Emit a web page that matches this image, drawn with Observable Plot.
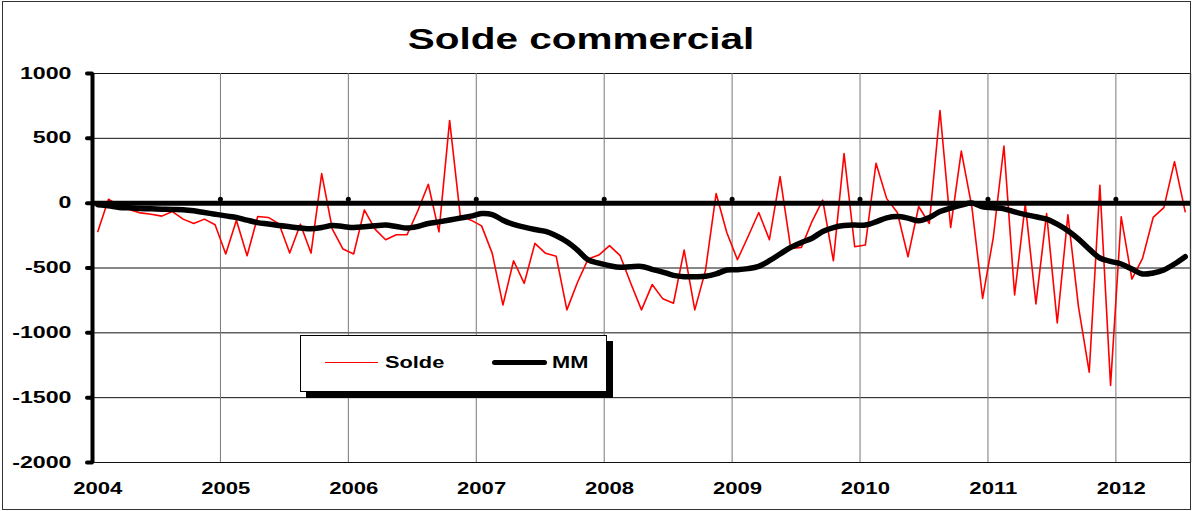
<!DOCTYPE html>
<html><head><meta charset="utf-8">
<script src="https://cdn.jsdelivr.net/npm/d3@7"></script>
<script src="https://cdn.jsdelivr.net/npm/@observablehq/plot@0.6"></script>
<style>
html,body{margin:0;padding:0;background:#fff;}
#wrap{position:relative;width:1192px;height:511px;overflow:hidden;font-family:"Liberation Sans",Arial,sans-serif;color:#000;}
#wrap svg{position:absolute;left:0;top:0;}
#frame{position:absolute;left:2px;top:1px;width:1189px;height:509px;border:1px solid #333;box-sizing:border-box;pointer-events:none;}
#title{position:absolute;left:581px;top:24px;font-size:30px;line-height:30px;font-weight:bold;white-space:nowrap;transform:translateX(-50%) scaleX(1.35);}
#legend{position:absolute;left:300px;top:335px;width:307px;height:57px;box-sizing:border-box;border:1.5px solid #000;background:#fff;box-shadow:6px 6px 0 #000;}
#legend .sw{position:absolute;}
#legend .lb{position:absolute;font-size:16px;line-height:16px;font-weight:bold;white-space:nowrap;transform:scaleX(1.36);transform-origin:0 50%;}
</style>
</head><body>
<div id="wrap">
  <div id="chart"></div>
  <div id="title">Solde commercial</div>
  <div id="legend">
    <div class="sw" style="left:23.5px;top:25.5px;width:53px;height:1.6px;background:#ff0000;"></div>
    <div class="lb" style="left:83.5px;top:18.5px;">Solde</div>
    <div class="sw" style="left:190.5px;top:23.5px;width:55px;height:5px;border-radius:3px;background:#000;"></div>
    <div class="lb" style="left:250.5px;top:18.5px;">MM</div>
  </div>
  <div id="frame"></div>
</div>
<script>
// Monthly values, January 2004 to July 2012
const startYear = 2004;
const solde = [
  -218, 30, -20, -50, -75, -85, -100, -65, -123, -157, -123, -167,
  -392, -131, -405, -103, -110, -160, -385, -162, -385, 228, -200, -354,
  -392, -52, -200, -282, -244, -244, -62, 146, -221, 638, -98, -131,
  -175, -387, -785, -444, -618, -310, -387, -410, -823, -610, -430, -400,
  -328, -405, -620, -823, -628, -738, -772, -362, -823, -520, 74, -226,
  -436, -257, -72, -282, 205, -349, -341, -140, 23, -444, 382, -336,
  -323, 308, 35, -72, -413, -26, -157, 715, -188, 402, -34, -734,
  -265, 441, -708, -8, -777, -80, -923, -90, -803, -1303, 138, -1405,
  -105, -585, -426, -110, -34, 320, -65
];
const mm = [
  -13, -21, -34, -36, -41, -44, -46, -49, -51, -59, -72, -85,
  -98, -110, -131, -150, -160, -172, -182, -192, -198, -188, -172, -180,
  -188, -182, -175, -169, -180, -192, -180, -157, -144, -130, -115, -100,
  -80, -88, -131, -164, -185, -203, -218, -252, -298, -362, -438, -462,
  -482, -495, -490, -488, -510, -531, -557, -567, -567, -564, -546, -515,
  -513, -505, -487, -444, -392, -341, -303, -270, -218, -188, -172, -169,
  -169, -144, -113, -103, -115, -136, -110, -65, -38, -15, 2, -28,
  -36, -44, -67, -88, -105, -123, -162, -213, -277, -354, -423, -449,
  -469, -508, -546, -538, -515, -469, -413
];
const years = [2004, 2005, 2006, 2007, 2008, 2009, 2010, 2011, 2012];
const yTicks = [1000, 500, 0, -500, -1000, -1500, -2000];

const data = solde.map((v, i) => ({t: startYear + (i + 0.5) / 12, solde: v, mm: mm[i]}));
const xEnd = startYear + solde.length / 12;

const chart = Plot.plot({
  width: 1192, height: 511,
  marginLeft: 92, marginRight: 2, marginTop: 73, marginBottom: 49,
  style: {fontFamily: "'Liberation Sans', Arial, sans-serif", fontSize: "16px", fontWeight: "bold", color: "#000", background: "transparent"},
  x: {domain: [startYear, xEnd], label: null},
  y: {domain: [-2000, 1000], label: null},
  marks: [
    Plot.ruleY(yTicks, {stroke: "#111", strokeWidth: 1}),
    Plot.ruleX(years.slice(1), {stroke: "#777", strokeWidth: 1}),
    Plot.ruleX([xEnd], {stroke: "#888", strokeWidth: 1.5}),
    Plot.line(data, {x: "t", y: "solde", stroke: "#ff0000", strokeWidth: 1.6}),
    Plot.ruleY([0], {stroke: "#000", strokeWidth: 5}),
    Plot.dot(years.slice(1), {x: d => d, y: () => 0, r: 2.5, fill: "#000", dy: -4}),
    Plot.line(data, {x: "t", y: "mm", stroke: "#000", strokeWidth: 5.5, curve: "catmull-rom", strokeLinecap: "round", strokeLinejoin: "round"}),
    Plot.ruleX([startYear], {stroke: "#000", strokeWidth: 4}),
    Plot.axisY(yTicks, {tickSize: 5, tickPadding: 16, strokeWidth: 4, strokeLinecap: "round", tickFormat: d => String(d), fontWeight: "bold", fontSize: 16}),
    Plot.axisX(years.map(y => y + 0.5 / 12), {tickSize: 0, tickPadding: 20, tickFormat: d => String(Math.floor(d)), fontWeight: "bold", fontSize: 16})
  ]
});

function stretch(sel, s) {
  chart.querySelectorAll(sel).forEach(t => {
    const x = +t.getAttribute("x") || 0, y = +t.getAttribute("y") || 0;
    const tr = t.getAttribute("transform") || "";
    t.setAttribute("transform", `${tr} translate(${x},${y}) scale(${s},1) translate(${-x},${-y})`);
  });
}
stretch('g[aria-label="y-axis tick label"] text', 1.45);
stretch('g[aria-label="x-axis tick label"] text', 1.38);

document.getElementById("chart").appendChild(chart);
</script>
</body></html>
